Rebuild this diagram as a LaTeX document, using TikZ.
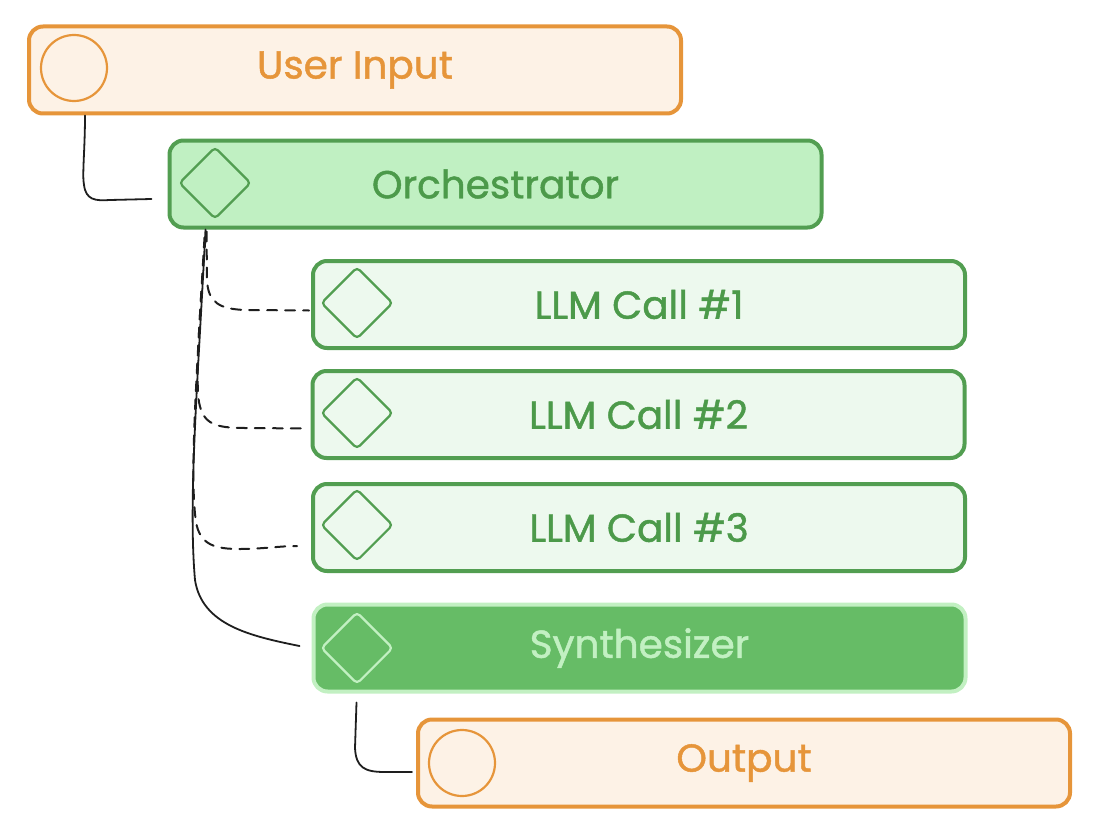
\documentclass[tikz,border=0pt]{standalone}
\usepackage{fontspec}
\setmainfont{Poppins}
\newfontfamily\diagfont{Poppins}[FakeBold=1.2]
\usetikzlibrary{calc,shapes.geometric}
\definecolor{orstroke}{HTML}{E6953A}
\definecolor{orfill}{HTML}{FDF2E6}
\definecolor{grstroke}{HTML}{529E51}
\definecolor{grtext}{HTML}{4C9A4A}
\definecolor{orchfill}{HTML}{C0F0C2}
\definecolor{llmfill}{HTML}{EDF9EE}
\definecolor{synfill}{HTML}{66BC66}
\definecolor{synlight}{HTML}{C2F0C2}
\definecolor{conncol}{HTML}{1E1E1E}
\begin{document}
\begin{tikzpicture}[x=1pt,y=-1pt,
  box/.style={draw, rounded corners=14pt, line width=4pt, minimum width=652pt,
    minimum height=87pt, inner sep=0pt, font=\diagfont\fontsize{39}{46}\selectfont},
  orangebox/.style={box, draw=orstroke, fill=orfill, text=orstroke},
  orchbox/.style={box, draw=grstroke, fill=orchfill, text=grtext},
  llmbox/.style={box, draw=grstroke, fill=llmfill, text=grtext},
  synbox/.style={box, draw=synlight, fill=synfill, text=synlight},
  ring/.style={circle, draw=orstroke, line width=2.2pt, minimum size=66pt, inner sep=0pt},
  gem/.style={diamond, draw=grstroke, line width=2.2pt, minimum size=72pt, inner sep=0pt, rounded corners=4pt},
  conn/.style={draw=conncol, line width=1.8pt, line cap=round},
  dconn/.style={conn, line width=2pt, dash pattern=on 10pt off 8pt}
]
\useasboundingbox (0,0) rectangle (1102,832);

\node[orangebox] (ui) at (355,70) {User Input};
\node[orchbox] (orch) at (495.5,184) {Orchestrator};
\node[llmbox] (l1) at (639,304.5) {LLM Call \#1};
\node[llmbox] (l2) at (638.5,414.5) {LLM Call \#2};
\node[llmbox] (l3) at (639,527.5) {LLM Call \#3};
\node[synbox] (syn) at (639.5,648) {Synthesizer};
\node[orangebox] (out) at (744,763) {Output};

\node[ring] (uiicon) at (74,68) {};
\node[ring] (outicon) at (462,763) {};
\node[gem] (orchicon) at (215,183) {};
\node[gem] (l1icon) at (357,303) {};
\node[gem] (l2icon) at (357,413) {};
\node[gem] (l3icon) at (357,525) {};
\node[gem, draw=synlight] (synicon) at (357,648) {};

% User Input -> Orchestrator
\draw[conn] ($(ui.south west)+(58,0)$) .. controls (85,150) and (82,175) .. (84,185)
  .. controls (86,200) and (95,201) .. (110,200) -- ($(orch.west)+(-16,15)$);

% Orchestrator -> Synthesizer
\draw[conn] ($(orch.south west)+(38,0)$) .. controls (198,380) and (188,500) .. (195,580)
  .. controls (202,625) and (250,636) .. ($(syn.west)+(-12,-2)$);

% Orchestrator -> LLM calls (dashed)
\draw[dconn] ($(orch.south west)+(39,2)$) -- (207,280) .. controls (208,303) and (220,309) .. (245,310)
  -- ($(l1.west)+(-2,6)$);
\draw[dconn] ($(orch.south west)+(38,8)$) .. controls (198,330) and (196,385) .. (199,402)
  .. controls (203,424) and (215,428) .. (245,428) -- ($(l2.west)+(-2,14)$);
\draw[dconn] ($(orch.south west)+(37,8)$) .. controls (195,400) and (190,480) .. (196,522)
  .. controls (200,545) and (215,549) .. (240,549) .. controls (262,549) and (280,546) .. ($(l3.west)+(-14,18.5)$);

% Synthesizer -> Output
\draw[conn] ($(syn.south west)+(45,9)$) -- (355,748) .. controls (356,768) and (365,772) .. (385,772)
  -- ($(out.west)+(-4,9)$);
\end{tikzpicture}
\end{document}
